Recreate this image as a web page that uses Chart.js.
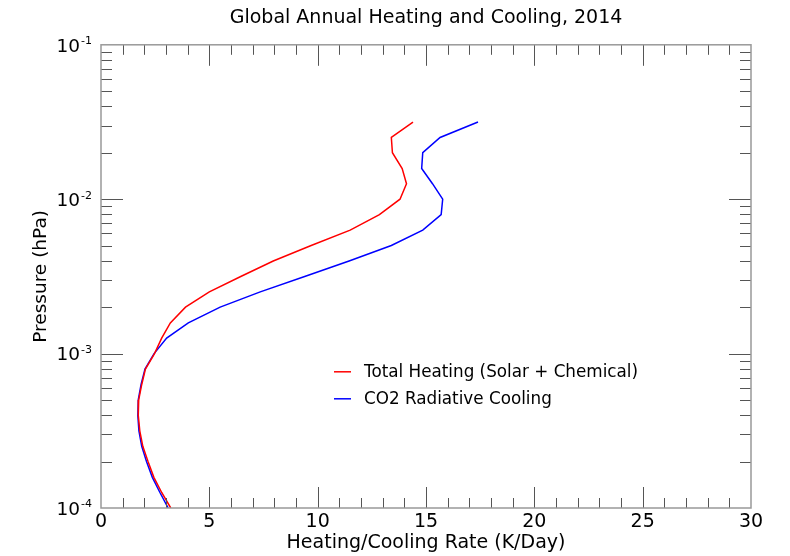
<!DOCTYPE html>
<html><head><meta charset="utf-8">
<script src="https://cdn.jsdelivr.net/npm/chart.js@4.4.1/dist/chart.umd.min.js"></script>
<style>html,body{margin:0;padding:0;background:#fff}#wrap{width:790px;height:556px}</style>
</head><body><div id="wrap"><canvas id="c" width="790" height="556"></canvas></div>
<script>
const chartTitle = 'Global Annual Heating and Cooling, 2014';
const xAxisTitle = 'Heating/Cooling Rate (K/Day)';
const yAxisTitle = 'Pressure (hPa)';
const seriesLabels = ['Total Heating (Solar + Chemical)', 'CO2 Radiative Cooling'];

// Pressure levels (hPa)
const pressure = [0.0316, 0.0251, 0.0200, 0.0158, 0.0126, 0.0100, 0.00794, 0.00631, 0.00501,
  0.00398, 0.00316, 0.00251, 0.00200, 0.00158, 0.00126, 0.00100, 0.000794, 0.000631, 0.000501,
  0.000398, 0.000316, 0.000251, 0.000200, 0.000158, 0.000126, 0.000100];
// Total heating rate (K/day)
const heating = [14.4, 13.4, 13.45, 13.9, 14.1, 13.8, 12.85, 11.5, 9.7, 7.95, 6.45, 5.0, 3.9,
  3.2, 2.8, 2.47, 2.05, 1.88, 1.74, 1.72, 1.79, 1.93, 2.17, 2.44, 2.8, 3.22];
// CO2 radiative cooling rate (K/day)
const cooling = [17.4, 15.65, 14.85, 14.8, 15.3, 15.77, 15.7, 14.85, 13.4, 11.45, 9.4, 7.35, 5.5,
  4.03, 3.03, 2.45, 2.03, 1.85, 1.72, 1.7, 1.75, 1.88, 2.1, 2.37, 2.72, 3.1];

const xMin = 0, xMax = 30, xStep = 5;
const yTickValues = [1e-4, 1e-3, 1e-2, 1e-1];
const yTickBase = '10';
const yTickExponents = ['-4', '-3', '-2', '-1'];

const FONT = '"DejaVu Sans", "Liberation Sans", sans-serif';

const frameTicks = {
  id: 'frameTicks',
  afterDraw(chart) {
    const {ctx, chartArea: {left, right, top, bottom}, scales: {x, y}} = chart;
    ctx.save();
    ctx.lineWidth = 1;
    ctx.strokeStyle = '#555';
    ctx.beginPath();
    for (let v = xMin + 1; v < xMax; v++) {
      const px = Math.round(x.getPixelForValue(v)) + 0.5;
      const len = v % xStep === 0 ? 21 : 10;
      ctx.moveTo(px, bottom); ctx.lineTo(px, bottom - len);
      ctx.moveTo(px, top); ctx.lineTo(px, top + len);
    }
    for (let e = -4; e <= -2; e++) {
      for (let m = 1; m <= 9; m++) {
        if (m === 1 && e === -4) continue;
        const v = m * Math.pow(10, e);
        const py = Math.round(y.getPixelForValue(v)) + 0.5;
        const len = m === 1 ? 22 : 11;
        ctx.moveTo(left, py); ctx.lineTo(left + len, py);
        ctx.moveTo(right, py); ctx.lineTo(right - len, py);
      }
    }
    ctx.stroke();
    ctx.lineWidth = 1.5;
    ctx.strokeStyle = '#999';
    ctx.strokeRect(left, top, right - left, bottom - top);
    ctx.restore();
  }
};

// y tick labels as base + raised exponent, placed through the y scale
const yPowerLabels = {
  id: 'yPowerLabels',
  afterDraw(chart) {
    const {ctx, chartArea, scales: {y}} = chart;
    const rightEdge = chartArea.left - 9;
    ctx.save();
    ctx.fillStyle = '#000';
    ctx.textAlign = 'right';
    ctx.textBaseline = 'middle';
    yTickValues.forEach((v, i) => {
      const py = y.getPixelForValue(v);
      ctx.font = '11px ' + FONT;
      const ew = ctx.measureText(yTickExponents[i]).width;
      ctx.fillText(yTickExponents[i], rightEdge, py - 3.5);
      ctx.font = '18.5px ' + FONT;
      ctx.fillText(yTickBase, rightEdge - ew - 1, py + 2);
    });
    ctx.restore();
  }
};

const insideLegend = {
  id: 'insideLegend',
  afterDraw(chart) {
    const {ctx, chartArea} = chart;
    const x0 = chartArea.left + 233, y0 = chartArea.top + 327, gap = 27;
    ctx.save();
    ctx.font = '16.8px ' + FONT;
    ctx.textBaseline = 'middle';
    ctx.textAlign = 'left';
    chart.data.datasets.forEach((ds, i) => {
      const yy = y0 + i * gap;
      ctx.strokeStyle = ds.borderColor;
      ctx.lineWidth = 1.5;
      ctx.beginPath();
      ctx.moveTo(x0, yy); ctx.lineTo(x0 + 17, yy);
      ctx.stroke();
      ctx.fillStyle = '#000';
      ctx.fillText(ds.label, x0 + 30, yy + 1);
    });
    ctx.restore();
  }
};

new Chart(document.getElementById('c'), {
  type: 'scatter',
  data: {
    datasets: [
      {label: seriesLabels[0], data: pressure.map((p, i) => ({x: heating[i], y: p})),
       borderColor: '#ff0000', backgroundColor: '#ff0000', showLine: true, pointRadius: 0, borderWidth: 1.5, tension: 0},
      {label: seriesLabels[1], data: pressure.map((p, i) => ({x: cooling[i], y: p})),
       borderColor: '#0000ff', backgroundColor: '#0000ff', showLine: true, pointRadius: 0, borderWidth: 1.5, tension: 0}
    ]
  },
  options: {
    responsive: false,
    animation: false,
    devicePixelRatio: 1,
    layout: {padding: {left: 0, right: 39, top: 0, bottom: 0}},
    plugins: {
      legend: {display: false},
      tooltip: {enabled: false},
      title: {display: true, text: chartTitle, color: '#000', fullSize: false,
        font: {family: FONT, size: 19, weight: 'normal'}, padding: {top: 7, bottom: 15}}
    },
    scales: {
      x: {
        type: 'linear', min: xMin, max: xMax,
        grid: {display: false, drawTicks: false},
        border: {display: false},
        ticks: {stepSize: xStep, color: '#000', padding: 3, maxRotation: 0,
          font: {family: FONT, size: 19}},
        title: {display: true, text: xAxisTitle, color: '#000',
          font: {family: FONT, size: 19}, padding: {top: 0, bottom: 2}},
        afterFit(s) { s.height = 48; }
      },
      y: {
        type: 'logarithmic', min: 1e-4, max: 1e-1,
        grid: {display: false, drawTicks: false},
        border: {display: false},
        afterBuildTicks(s) { s.ticks = yTickValues.map(v => ({value: v})); },
        ticks: {display: false},
        title: {display: true, text: yAxisTitle, color: '#000',
          font: {family: FONT, size: 18.5}, padding: {top: 30, bottom: 0}},
        afterFit(s) { s.width = 101; }
      }
    }
  },
  plugins: [frameTicks, yPowerLabels, insideLegend]
});
</script>
</body></html>
